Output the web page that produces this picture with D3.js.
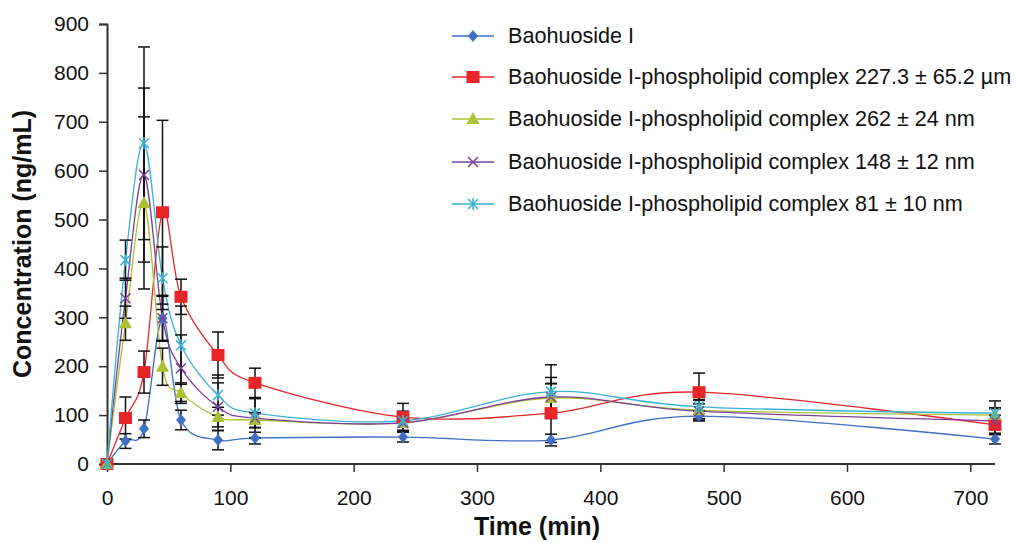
<!DOCTYPE html>
<html><head><meta charset="utf-8">
<script src="https://cdn.jsdelivr.net/npm/d3@7"></script>
<style>body{margin:0;background:#fff}svg{font-family:"Liberation Sans",Arial,sans-serif}</style>
</head><body><svg id="c" width="1019" height="543"></svg>
<script>
const times = [0,15,30,45,60,90,120,240,360,480,720];
const seriesNames = ["Baohuoside I","Baohuoside I-phospholipid complex 227.3 \u00b1 65.2 \u00b5m","Baohuoside I-phospholipid complex 262 \u00b1 24 nm","Baohuoside I-phospholipid complex 148 \u00b1 12 nm","Baohuoside I-phospholipid complex 81 \u00b1 10 nm"];
const baoValues = [0,47,72,298,90,49,53,55,49,98,51];
const baoErr    = [0,15,18,45,20,20,12,10,12,10,10];
const c227Values = [0,94,188,515,342,223,166,96,104,147,80];
const c227Err    = [0,43,43,188,36,47,30,28,60,39,20];
const c262Values = [0,288,534,199,145,96,90,84,135,110,100];
const c262Err    = [0,35,176,38,21,20,15,15,30,20,15];
const c148Values = [0,339,591,298,196,117,94,84,137,108,88];
const c148Err    = [0,41,178,47,68,49,40,18,40,15,25];
const c81Values  = [0,417,656,380,243,141,104,88,148,117,104];
const c81Err     = [0,41,197,64,80,41,30,20,55,15,25];
const xTicks = [0,100,200,300,400,500,600,700];
const yTicks = [0,100,200,300,400,500,600,700,800,900];

const colors = ["#3d6fc2","#e8262a","#a9c133","#7d3f9a","#37b2d4"];
const markers = ["diamond","square","triangle","x","star"];
const series = [
  {v:baoValues,e:baoErr},{v:c227Values,e:c227Err},{v:c262Values,e:c262Err},
  {v:c148Values,e:c148Err},{v:c81Values,e:c81Err}];

const svg = d3.select("#c");
const x = d3.scaleLinear().domain([0,720]).range([107,995]);
const y = d3.scaleLinear().domain([0,900]).range([464,24]);

function drawMarker(g, type, color, cx, cy){
  if(type==="diamond"){
    g.append("path").attr("d",`M${cx},${cy-6}L${cx+5},${cy}L${cx},${cy+6}L${cx-5},${cy}Z`).attr("fill",color);
  } else if(type==="square"){
    g.append("rect").attr("x",cx-6.5).attr("y",cy-6).attr("width",13).attr("height",12).attr("fill",color);
  } else if(type==="triangle"){
    g.append("path").attr("d",`M${cx},${cy-7}L${cx+6.5},${cy+5}L${cx-6.5},${cy+5}Z`).attr("fill",color);
  } else if(type==="x"){
    g.append("path").attr("d",`M${cx-5},${cy-5}L${cx+5},${cy+5}M${cx-5},${cy+5}L${cx+5},${cy-5}`).attr("stroke",color).attr("stroke-width",1.5);
  } else {
    g.append("path").attr("d",`M${cx-5},${cy-5}L${cx+5},${cy+5}M${cx-5},${cy+5}L${cx+5},${cy-5}M${cx},${cy-6}L${cx},${cy+6}`).attr("stroke",color).attr("stroke-width",1.5);
  }
}

// axes
const xAxis = svg.append("g").attr("transform","translate(0,464)")
  .call(d3.axisBottom(x).tickValues(xTicks).tickSize(8).tickPadding(18).tickFormat(d3.format("d")));
const yAxis = svg.append("g").attr("transform","translate(107,0)")
  .call(d3.axisLeft(y).tickValues(yTicks).tickSize(8).tickPadding(10).tickFormat(d3.format("d")));
[xAxis,yAxis].forEach(a=>{
  a.select(".domain").attr("stroke","#333").attr("stroke-width",2);
  a.selectAll(".tick line").attr("stroke","#333").attr("stroke-width",1.5);
  a.selectAll(".tick text").attr("font-size",21).attr("fill","#111").attr("font-family","Liberation Sans, Arial, sans-serif");
});
xAxis.select(".domain").attr("d","M107,0H995");

// lines
const line = d3.line().x((d,i)=>x(times[i])).y(d=>y(d)).curve(d3.curveCardinal.tension(0));
const plot = svg.append("g");
series.forEach((s,k)=>{
  plot.append("path").datum(s.v).attr("d",line).attr("fill","none").attr("stroke",colors[k]).attr("stroke-width",1.3);
});
// error bars
const eb = svg.append("g").attr("stroke","#111").attr("stroke-width",1.5);
series.forEach(s=>{
  s.v.forEach((v,i)=>{
    if(!s.e[i]) return;
    const cx = x(times[i]);
    eb.append("line").attr("x1",cx).attr("x2",cx).attr("y1",y(v-s.e[i])).attr("y2",y(v+s.e[i]));
    eb.append("line").attr("x1",cx-6).attr("x2",cx+6).attr("y1",y(v+s.e[i])).attr("y2",y(v+s.e[i]));
    eb.append("line").attr("x1",cx-6).attr("x2",cx+6).attr("y1",y(v-s.e[i])).attr("y2",y(v-s.e[i]));
  });
});
// markers
const mk = svg.append("g");
series.forEach((s,k)=>{
  s.v.forEach((v,i)=>drawMarker(mk,markers[k],colors[k],x(times[i]),y(v)));
});

// legend
const legY = [36,77,119,162,204];
const lg = svg.append("g");
seriesNames.forEach((n,k)=>{
  lg.append("line").attr("x1",452).attr("x2",494).attr("y1",legY[k]).attr("y2",legY[k]).attr("stroke",colors[k]).attr("stroke-width",1.5);
  drawMarker(lg,markers[k],colors[k],473,legY[k]);
  lg.append("text").attr("x",508).attr("y",legY[k]+7).attr("font-size",21.6).attr("fill","#111").text(n);
});

// titles
svg.append("text").attr("x",537).attr("y",535).attr("text-anchor","middle").attr("font-size",25).attr("font-weight","bold").attr("fill","#111").text("Time (min)");
svg.append("text").attr("transform","translate(31,244) rotate(-90)").attr("text-anchor","middle").attr("font-size",25).attr("font-weight","bold").attr("fill","#111").text("Concentration (ng/mL)");
</script></body></html>
